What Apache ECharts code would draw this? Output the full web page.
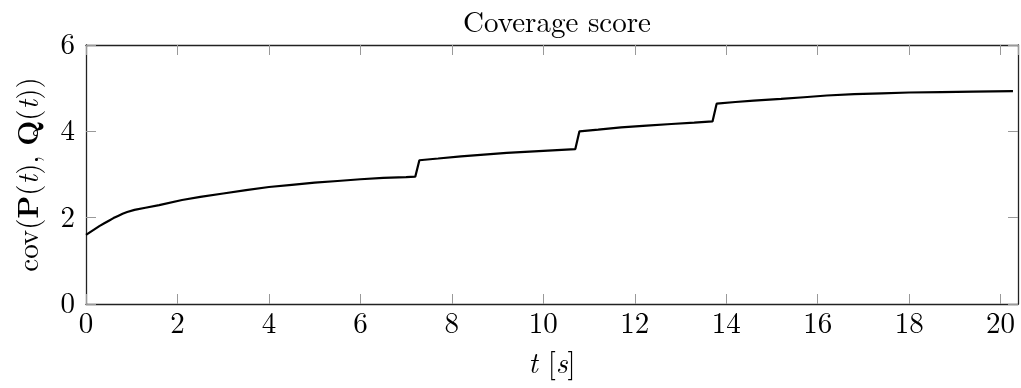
<!DOCTYPE html>
<html>
<head>
<meta charset="utf-8">
<script src="https://cdn.jsdelivr.net/npm/echarts@6/dist/echarts.min.js"></script>
<style>html,body{margin:0;padding:0;background:#fff}#c{width:1021px;height:388px}</style>
</head>
<body>
<div id="c"></div>
<script>
const titleText = 'Coverage score';
const tValues = [0, 0.1, 0.2, 0.3, 0.4, 0.5, 0.6, 0.7, 0.8, 0.9, 1.06, 1.3, 1.6, 2.1, 2.5, 3, 3.5, 4, 4.5, 5, 5.5, 6, 6.5, 7, 7.2,
  7.29, 7.7, 8.2, 8.7, 9.2, 9.7, 10.2, 10.7,
  10.79, 11.2, 11.7, 12.26, 12.8, 13.3, 13.7,
  13.79, 14.2, 14.6, 15.2, 15.7, 16.2, 16.8, 17.4, 18, 18.7, 19.4, 20.27];
const covValues = [1.60, 1.67, 1.74, 1.81, 1.87, 1.93, 1.99, 2.04, 2.09, 2.13, 2.18, 2.23, 2.29, 2.41, 2.48, 2.56, 2.64, 2.71, 2.76, 2.81, 2.85, 2.89, 2.92, 2.94, 2.95,
  3.33, 3.37, 3.42, 3.46, 3.50, 3.53, 3.56, 3.59,
  4.00, 4.04, 4.09, 4.13, 4.17, 4.20, 4.23,
  4.64, 4.68, 4.71, 4.75, 4.79, 4.83, 4.86, 4.88, 4.90, 4.91, 4.92, 4.93];
const xTicks = [0, 2, 4, 6, 8, 10, 12, 14, 16, 18, 20];
const yTicks = [0, 2, 4, 6];

const FONT = '"Latin Modern Roman", "CMU Serif", "Liberation Serif", serif';
const FS = 29;
const chart = echarts.init(document.getElementById('c'), null, {renderer: 'canvas'});
const frame = {show: true, onZero: false, lineStyle: {color: '#222', width: 1.3}};
const ticks = {show: true, inside: true, length: 10, lineStyle: {color: '#999', width: 1}};
const seriesData = tValues.map((t, i) => [t, covValues[i]]);

chart.setOption({
  animation: false,
  title: {
    text: titleText, left: 552, top: 4, textAlign: 'center',
    textStyle: {fontFamily: FONT, fontWeight: 'normal', fontSize: FS, color: '#000'}
  },
  grid: {left: 86, right: 3, top: 45, bottom: 84, containLabel: false},
  xAxis: [{
    type: 'value', min: 0, max: 20.38, interval: 2, position: 'bottom',
    axisLine: frame, axisTick: ticks, splitLine: {show: false},
    axisLabel: {
      fontFamily: FONT, fontSize: FS, color: '#000', margin: 6, showMaxLabel: false,
      formatter: v => xTicks.includes(v) ? String(v) : ''
    },
    name: '{i|t}{n| [}{i|s}{n|]}', nameLocation: 'middle', nameGap: 46,
    nameTextStyle: {
      rich: {
        i: {fontFamily: FONT, fontSize: FS, fontStyle: 'italic', color: '#000'},
        n: {fontFamily: FONT, fontSize: FS, color: '#000'}
      }
    }
  }, {
    type: 'value', min: 0, max: 20.38, interval: 2, position: 'top',
    axisLine: frame, axisTick: ticks, axisLabel: {show: false}, splitLine: {show: false}
  }],
  yAxis: [{
    type: 'value', min: 0, max: 6, interval: 2, position: 'left',
    axisLine: frame, axisTick: ticks, splitLine: {show: false},
    axisLabel: {
      fontFamily: FONT, fontSize: FS, color: '#000', margin: 11,
      formatter: v => yTicks.includes(v) ? String(v) : ''
    },
    name: '{n|cov(}{b|P}{n|(}{i|t}{n|), }{b|Q}{n|(}{i|t}{n|))}',
    nameLocation: 'middle', nameRotate: 90, nameGap: 42,
    nameTextStyle: {
      rich: {
        i: {fontFamily: FONT, fontSize: FS, fontStyle: 'italic', color: '#000'},
        b: {fontFamily: FONT, fontSize: FS, fontWeight: 'bold', color: '#000'},
        n: {fontFamily: FONT, fontSize: FS, color: '#000'}
      }
    }
  }, {
    type: 'value', min: 0, max: 6, interval: 2, position: 'right',
    axisLine: frame, axisTick: ticks, axisLabel: {show: false}, splitLine: {show: false}
  }],
  series: [{
    type: 'line', data: seriesData, xAxisIndex: 0, yAxisIndex: 0,
    showSymbol: false, smooth: false,
    lineStyle: {color: '#000', width: 2.2}
  }]
});
</script>
</body>
</html>
